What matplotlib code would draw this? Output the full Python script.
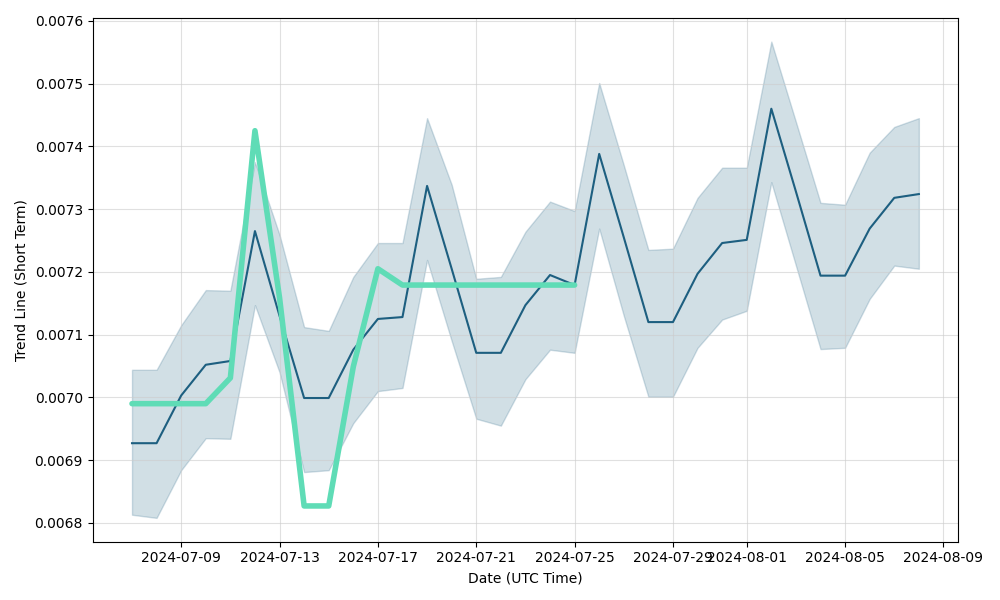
import matplotlib

matplotlib.use("Agg")
import matplotlib.pyplot as plt
import pandas as pd

dates = pd.date_range("2024-07-07", "2024-08-08", freq="D")

trend = [
    0.006927, 0.006927, 0.007003, 0.007052, 0.007058, 0.007265, 0.007130, 0.006999,
    0.006999, 0.007076, 0.007125, 0.007128, 0.007337, 0.007205, 0.007071, 0.007071,
    0.007147, 0.007195, 0.007179, 0.007388, 0.007255, 0.007120, 0.007120, 0.007197,
    0.007246, 0.007251, 0.007460, 0.007328, 0.007194, 0.007194, 0.007269, 0.007318,
    0.007324,
]
upper = [
    0.007044, 0.007044, 0.007115, 0.007171, 0.007170, 0.007375, 0.007259, 0.007112,
    0.007106, 0.007192, 0.007246, 0.007246, 0.007445, 0.007339, 0.007189, 0.007192,
    0.007264, 0.007312, 0.007297, 0.007501, 0.007370, 0.007235, 0.007237, 0.007318,
    0.007366, 0.007366, 0.007567, 0.007439, 0.007310, 0.007307, 0.007390, 0.007431,
    0.007445,
]
lower = [
    0.006813, 0.006808, 0.006884, 0.006935, 0.006934, 0.007147, 0.007040, 0.006881,
    0.006884, 0.006959, 0.007010, 0.007015, 0.007219, 0.007090, 0.006966, 0.006955,
    0.007029, 0.007076, 0.007071, 0.007269, 0.007130, 0.007001, 0.007001, 0.007079,
    0.007124, 0.007138, 0.007343, 0.007210, 0.007077, 0.007079, 0.007157, 0.007210,
    0.007205,
]

green_dates = pd.date_range("2024-07-07", "2024-07-25", freq="D")
green = [
    0.006990, 0.006990, 0.006990, 0.006990, 0.007031, 0.007425, 0.007159, 0.006827,
    0.006827, 0.007049, 0.007205, 0.007179, 0.007179, 0.007179, 0.007179, 0.007179,
    0.007179, 0.007179, 0.007179,
]

DARK = "#1d5f80"
GREEN = "#5fdcb6"

fig, ax = plt.subplots(figsize=(10, 6), dpi=100)
ax.fill_between(dates, lower, upper, color=DARK, alpha=0.2, linewidth=1)
ax.plot(dates, trend, color=DARK, linewidth=1.5)
ax.plot(green_dates, green, color=GREEN, linewidth=4, solid_capstyle="round")
ax.set_ylim(0.00677, 0.007605)
ax.grid(True, color="#cccccc", alpha=0.6)
ax.set_xlabel("Date (UTC Time)")
ax.set_ylabel("Trend Line (Short Term)")
fig.tight_layout()
fig.savefig("out.png")
